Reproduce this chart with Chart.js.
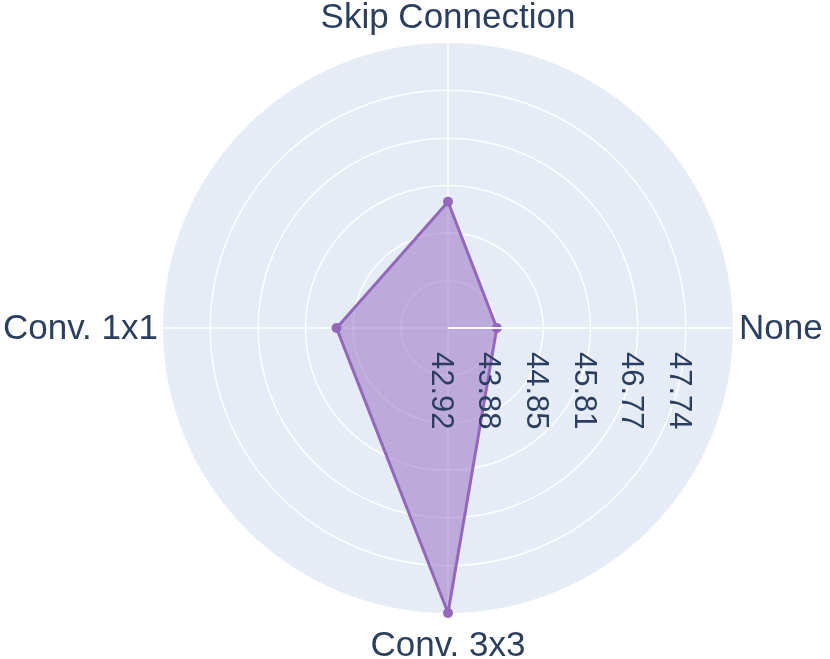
<!DOCTYPE html>
<html>
<head>
<meta charset="utf-8">
<script src="https://cdn.jsdelivr.net/npm/chart.js@4"></script>
<style>
	html, body { margin: 0; padding: 0; background: #fff; }
	canvas { display: block; }
</style>
</head>
<body>
<canvas id="chart" width="830" height="659"></canvas>
<script>
// categories in Chart.js order (clockwise from the top)
const categories = ['Skip Connection', 'None', 'Conv. 3x3', 'Conv. 1x1'];
const scores = [45.48, 43.91, 48.70, 45.18];
const tickValues = [42.92, 43.88, 44.85, 45.81, 46.77, 47.74];
const tickLabels = ['42.92', '43.88', '44.85', '45.81', '46.77', '47.74'];
const rangeMin = 42.92;
const rangeMax = 48.70;

const textColor = '#2a3f5f';
const fontFamily = '"Liberation Sans", Arial, sans-serif';

// grey disc behind the grid, like plotly's polar bgcolor
const polarBackground = {
	id: 'polarBackground',
	beforeDraw(chart) {
		const s = chart.scales.r;
		const ctx = chart.ctx;
		ctx.save();
		ctx.fillStyle = '#e5ecf6';
		ctx.beginPath();
		ctx.arc(s.xCenter, s.yCenter, s.drawingArea, 0, Math.PI * 2);
		ctx.fill();
		ctx.restore();
	}
};

// radial axis line, rotated tick labels and category labels on top of the trace
const polarLabels = {
	id: 'polarLabels',
	afterDatasetsDraw(chart) {
		const s = chart.scales.r;
		const ctx = chart.ctx;
		ctx.save();

		const axisIndex = categories.indexOf('None');
		const end = s.getPointPosition(axisIndex, s.drawingArea);
		ctx.strokeStyle = '#ffffff';
		ctx.lineWidth = 2;
		ctx.beginPath();
		ctx.moveTo(s.xCenter, s.yCenter);
		ctx.lineTo(end.x, end.y);
		ctx.stroke();

		ctx.fillStyle = textColor;
		ctx.font = '31px ' + fontFamily;
		ctx.textAlign = 'left';
		ctx.textBaseline = 'alphabetic';
		tickValues.forEach((v, i) => {
			const p = s.getPointPosition(axisIndex, s.getDistanceFromCenterForValue(v));
			ctx.save();
			ctx.translate(p.x, p.y + 24);
			ctx.rotate(Math.PI / 2);
			ctx.fillText(tickLabels[i], 0, 16);
			ctx.restore();
		});

		ctx.font = '35px ' + fontFamily;
		categories.forEach((label, i) => {
			const angle = s.getIndexAngle(i);
			const sin = Math.sin(angle);
			const cos = Math.cos(angle);
			let pad = 5, dy = 0;
			if (Math.abs(sin) < 0.5) {
				ctx.textAlign = 'center';
				pad = cos > 0 ? 15 : 43;
			} else {
				ctx.textAlign = sin > 0 ? 'left' : 'right';
				pad = sin > 0 ? 6 : 5;
				dy = 11;
			}
			const p = s.getPointPosition(i, s.drawingArea + pad);
			ctx.fillText(label, p.x, p.y + dy);
		});
		ctx.restore();
	}
};

const ctx = document.getElementById('chart').getContext('2d');
new Chart(ctx, {
	type: 'radar',
	data: {
		labels: categories,
		datasets: [{
			data: scores,
			fill: true,
			backgroundColor: 'rgba(148, 103, 189, 0.5)',
			borderColor: '#9467bd',
			borderWidth: 3,
			pointRadius: 5,
			pointBorderWidth: 0,
			pointBackgroundColor: '#9467bd',
			tension: 0,
			clip: false
		}]
	},
	options: {
		responsive: false,
		animation: false,
		layout: {
			padding: { left: 163, right: 97, top: 43, bottom: 46 }
		},
		plugins: {
			legend: { display: false },
			tooltip: { enabled: false }
		},
		scales: {
			r: {
				min: rangeMin,
				max: rangeMax,
				afterBuildTicks: scale => {
					scale.ticks = tickValues.map(v => ({ value: v }));
				},
				ticks: { display: false },
				pointLabels: { display: false },
				grid: { circular: true, color: '#ffffff', lineWidth: 1.5 },
				angleLines: { color: '#ffffff', lineWidth: 1.5 }
			}
		}
	},
	plugins: [polarBackground, polarLabels]
});
</script>
</body>
</html>
